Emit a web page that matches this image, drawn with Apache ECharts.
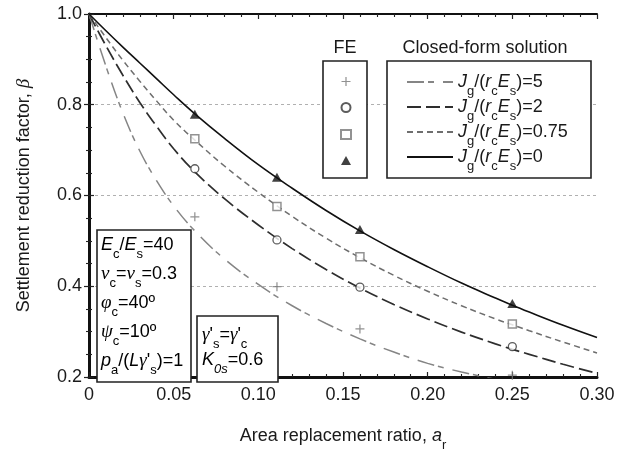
<!DOCTYPE html>
<html><head><meta charset="utf-8">
<script src="https://cdn.jsdelivr.net/npm/echarts@6/dist/echarts.min.js"></script>
<style>html,body{margin:0;padding:0;background:#fff}#c{width:629px;height:457px}</style>
</head><body><div id="c"></div>
<script>
// ---- data ----
const xGrid    = [0, 0.01, 0.02, 0.03, 0.04, 0.05, 0.0625, 0.08, 0.10, 0.12, 0.14, 0.16, 0.18, 0.20, 0.22, 0.24, 0.25, 0.26, 0.28, 0.30];
const betaJ5   = [1.000, 0.885, 0.782, 0.698, 0.632, 0.577, 0.522, 0.460, 0.404, 0.357, 0.318, 0.284, 0.255, 0.230, 0.211, 0.195, 0.188, 0.181, 0.168, 0.156];
const betaJ2   = [1.000, 0.930, 0.865, 0.805, 0.752, 0.703, 0.652, 0.593, 0.535, 0.483, 0.437, 0.396, 0.360, 0.328, 0.299, 0.273, 0.261, 0.250, 0.228, 0.208];
const betaJ075 = [1.000, 0.948, 0.898, 0.852, 0.808, 0.766, 0.722, 0.665, 0.607, 0.554, 0.506, 0.463, 0.424, 0.389, 0.357, 0.328, 0.315, 0.302, 0.277, 0.253];
const betaJ0   = [1.000, 0.963, 0.927, 0.892, 0.857, 0.822, 0.780, 0.726, 0.668, 0.616, 0.567, 0.522, 0.481, 0.443, 0.407, 0.374, 0.358, 0.343, 0.314, 0.287];

const feX    = [0.0625, 0.111, 0.16, 0.25];
const feJ5   = [0.553, 0.399, 0.306, 0.204];
const feJ2   = [0.659, 0.502, 0.398, 0.267];
const feJ075 = [0.725, 0.576, 0.465, 0.317];
const feJ0   = [0.779, 0.640, 0.525, 0.362];

const jValues     = ['5', '2', '0.75', '0'];
const xTickLabels = ['0', '0.05', '0.10', '0.15', '0.20', '0.25', '0.30'];
const yTickLabels = ['0.2', '0.4', '0.6', '0.8', '1.0'];

// ---- styling ----
const F = 'Liberation Sans';
const G = 'Liberation Serif';
const TXT = '#1a1a1a';
const rich = {
  n:  {fontFamily: F, fontSize: 18, lineHeight: 32, verticalAlign: 'middle', color: TXT},
  i:  {fontFamily: F, fontSize: 18, lineHeight: 32, verticalAlign: 'middle', fontStyle: 'italic', color: TXT},
  g:  {fontFamily: G, fontSize: 19, lineHeight: 32, verticalAlign: 'middle', fontStyle: 'italic', color: TXT},
  s:  {fontFamily: F, fontSize: 13, lineHeight: 13, verticalAlign: 'bottom', color: TXT},
  si: {fontFamily: F, fontSize: 13, lineHeight: 13, verticalAlign: 'bottom', fontStyle: 'italic', color: TXT}
};
const pair = (xs, ys) => xs.map((x, k) => [x, ys[k]]);
const lineNames = ['L5', 'L2', 'L075', 'L0'];
const feNames = ['F5', 'F2', 'F075', 'F0'];
const lineStyles = [
  {color: '#858585', width: 1.5, type: [17, 4, 6, 9]},
  {color: '#2e2e2e', width: 1.7, type: [14, 5]},
  {color: '#6e6e6e', width: 1.5, type: [6, 4]},
  {color: '#111111', width: 1.6, type: 'solid'}
];
const lineData = [betaJ5, betaJ2, betaJ075, betaJ0];
const feData = [feJ5, feJ2, feJ075, feJ0];
const plusPath = 'path://M3.45,0 H4.55 V3.45 H8 V4.55 H4.55 V8 H3.45 V4.55 H0 V3.45 H3.45 Z';
const feSym = [
  {symbol: plusPath, symbolSize: 9, itemStyle: {color: '#777'}},
  {symbol: 'circle', symbolSize: 8, itemStyle: {color: '#fff', borderColor: '#333', borderWidth: 1.3}},
  {symbol: 'rect', symbolSize: 8, itemStyle: {color: '#fff', borderColor: '#777', borderWidth: 1.5}},
  {symbol: 'triangle', symbolSize: [10, 9], itemStyle: {color: '#111'}}
];

const series = [];
lineNames.forEach((nm, k) => series.push({
  name: nm, type: 'line', data: pair(xGrid, lineData[k]), smooth: 0.4,
  symbol: 'none', lineStyle: lineStyles[k], color: lineStyles[k].color, z: 2, clip: true
}));
feNames.forEach((nm, k) => series.push(Object.assign({
  name: nm, type: 'scatter', data: pair(feX, feData[k]), z: 3
}, feSym[k])));

const axisLbl = {fontFamily: F, fontSize: 18, color: TXT};
const tick = {show: true, inside: true, length: 5, lineStyle: {color: '#222', width: 1.2}};
const minor = (n) => ({show: true, splitNumber: n, length: 3, lineStyle: {color: '#222', width: 1.1}});

const option = {
  animation: false,
  backgroundColor: '#fff',
  grid: {left: 89, right: 32, top: 14, bottom: 71, containLabel: false},
  xAxis: [{
    type: 'value', min: 0, max: 0.3, interval: 0.05, position: 'bottom',
    axisLine: {lineStyle: {color: '#111', width: 3}},
    axisTick: tick, minorTick: minor(5), splitLine: {show: false},
    axisLabel: Object.assign({margin: 9, formatter: v => xTickLabels[Math.round(v / 0.05)]}, axisLbl),
    name: '{n|Area replacement ratio, }{i|a}{s|r}', nameLocation: 'middle', nameGap: 43,
    nameTextStyle: {rich: rich}
  }, {
    type: 'value', min: 0, max: 0.3, interval: 0.05, position: 'top',
    axisLine: {lineStyle: {color: '#111', width: 2}},
    axisTick: tick, minorTick: minor(5), splitLine: {show: false}, axisLabel: {show: false}
  }],
  yAxis: [{
    type: 'value', min: 0.2, max: 1.0, interval: 0.2, position: 'left',
    axisLine: {lineStyle: {color: '#111', width: 3}},
    axisTick: tick, minorTick: minor(4),
    splitLine: {show: true, lineStyle: {color: '#b0b0b0', width: 1, type: [3, 3]}},
    axisLabel: Object.assign({margin: 7, formatter: v => yTickLabels[Math.round((v - 0.2) / 0.2)]}, axisLbl),
    name: '{n|Settlement reduction factor, }{g|β}', nameLocation: 'middle', nameGap: 49,
    nameTextStyle: {rich: rich}
  }, {
    type: 'value', min: 0.2, max: 1.0, interval: 0.2, position: 'right',
    axisLine: {lineStyle: {color: '#111', width: 2}},
    axisTick: tick, minorTick: minor(4), splitLine: {show: false}, axisLabel: {show: false}
  }],
  legend: [{
    data: feNames, orient: 'vertical', left: 340, top: 77, padding: 0,
    itemWidth: 10, itemHeight: 9, itemGap: 16, textStyle: {fontSize: 9, lineHeight: 9},
    formatter: () => '', selectedMode: false
  }, {
    data: lineNames, orient: 'vertical', left: 406, top: 66, padding: 0,
    itemWidth: 46, itemHeight: 14, itemGap: -7, textGap: 13, selectedMode: false,
    itemStyle: {opacity: 0},
    textStyle: {rich: rich, fontFamily: F, fontSize: 18, lineHeight: 32},
    formatter: name => '{i|J}{s|g}{n|/(}{i|r}{s|c}{i|E}{s|s}{n|)=' + jValues[lineNames.indexOf(name)] + '}'
  }],
  graphic: [
    {type: 'rect', z: 3, shape: {x: 323, y: 61, width: 44, height: 117}, style: {fill: '#fff', stroke: '#222', lineWidth: 1.6}},
    {type: 'rect', z: 3, shape: {x: 387, y: 61, width: 204, height: 117}, style: {fill: '#fff', stroke: '#222', lineWidth: 1.6}},
    {type: 'text', z: 5, x: 345, y: 48, style: {text: 'FE', font: '18px "Liberation Sans"', fill: TXT, align: 'center', verticalAlign: 'middle'}},
    {type: 'text', z: 5, x: 485, y: 48, style: {text: 'Closed-form solution', font: '18px "Liberation Sans"', fill: TXT, align: 'center', verticalAlign: 'middle'}},
    {type: 'rect', z: 3, shape: {x: 97, y: 230, width: 94, height: 152}, style: {fill: '#fff', stroke: '#222', lineWidth: 1.6}},
    {type: 'rect', z: 3, shape: {x: 197, y: 316, width: 81, height: 66}, style: {fill: '#fff', stroke: '#222', lineWidth: 1.6}},
    {type: 'text', z: 5, x: 101, y: 229, style: {text: '{i|E}{s|c}{n|/}{i|E}{s|s}{n|=40}', rich: rich}},
    {type: 'text', z: 5, x: 101, y: 258, style: {text: '{g|ν}{s|c}{n|=}{g|ν}{s|s}{n|=0.3}', rich: rich}},
    {type: 'text', z: 5, x: 101, y: 287, style: {text: '{g|φ}{s|c}{n|=40º}', rich: rich}},
    {type: 'text', z: 5, x: 101, y: 316, style: {text: '{g|ψ}{s|c}{n|=10º}', rich: rich}},
    {type: 'text', z: 5, x: 101, y: 345, style: {text: "{i|p}{s|a}{n|/(}{i|L}{g|γ}{n|'}{s|s}{n|)=1}", rich: rich}},
    {type: 'text', z: 5, x: 202, y: 319, style: {text: "{g|γ}{n|'}{s|s}{n|=}{g|γ}{n|'}{s|c}", rich: rich}},
    {type: 'text', z: 5, x: 202, y: 344, style: {text: '{i|K}{si|0s}{n|=0.6}', rich: rich}}
  ],
  series: series
};
const chart = echarts.init(document.getElementById('c'), null, {renderer: 'canvas'});
chart.setOption(option);
</script></body></html>
